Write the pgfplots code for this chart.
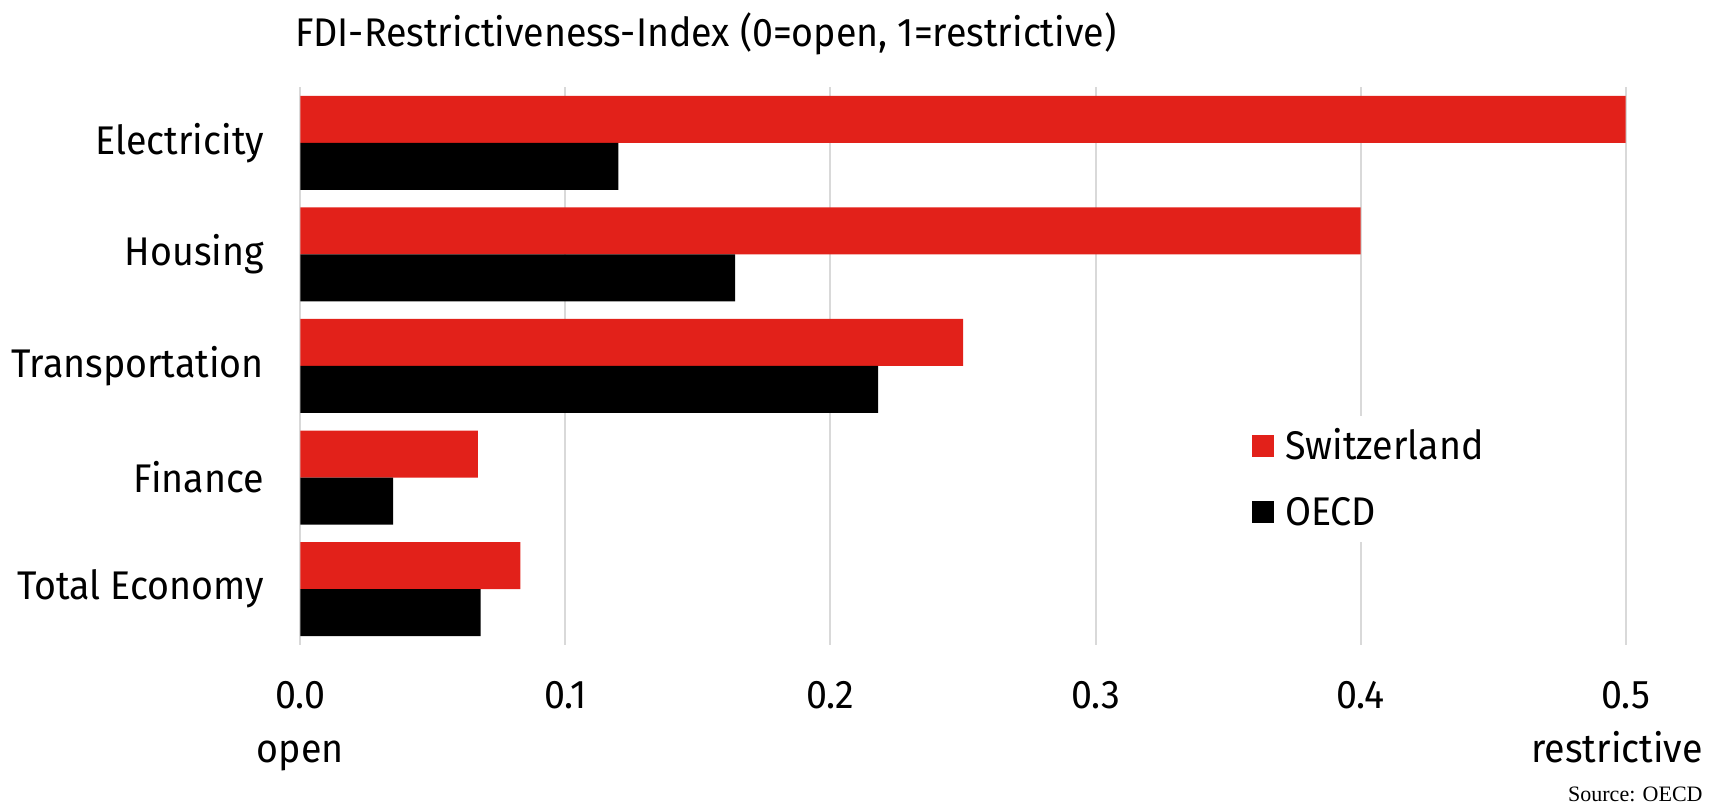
\documentclass[border=0pt]{standalone}
\usepackage{fontspec}
\setmainfont[FakeStretch=0.94]{Fira Sans}
\newfontfamily\srcfont{Liberation Serif}
\usepackage{pgfplots}
\pgfplotsset{compat=1.18}
\definecolor{chred}{RGB}{226,33,26}
\definecolor{gridgray}{RGB}{217,217,217}
\newcommand{\bigf}{\fontsize{20}{24}\selectfont}
\begin{document}
\begin{tikzpicture}
\begin{axis}[
  name=a,
  scale only axis,
  width=662.6pt, height=279pt,
  xbar, bar width=23.5pt,
  xmin=0, xmax=0.5,
  ymin=-0.5, ymax=4.5,
  clip=false,
  ytick={0,1,2,3,4},
  yticklabels={Total Economy, Finance, Transportation, Housing, Electricity},
  xtick={0,0.1,0.2,0.3,0.4,0.5},
  /pgf/number format/assume math mode=true,
  xticklabel={\pgfmathprintnumber[fixed, fixed zerofill, precision=1]{\tick}},
  xmajorgrids, major grid style={gridgray, line width=1pt},
  axis line style={draw=none},
  major tick length=0pt,
  tick label style={font=\bigf},
  xticklabel style={yshift=-14.5pt},
  yticklabel style={xshift=-14.7pt},
  legend style={at={(rel axis cs:0.807,0.2975)}, anchor=center, draw=none, fill=white,
    font=\bigf, inner sep=6pt, row sep=15pt,
    nodes={text height=14pt, text depth=0pt, inner sep=2pt},
    /tikz/every odd column/.append style={column sep=3.5pt}},
  legend cell align=left,
  legend image code/.code={\fill[#1] (0pt,-5.5pt) rectangle (11pt,5.5pt);},
]
\addplot[fill=chred, draw=none, bar shift=11.75pt] coordinates {(0.5,4) (0.4,3) (0.25,2) (0.067,1) (0.083,0)};
\addplot[fill=black, draw=none, bar shift=-11.75pt] coordinates {(0.12,4) (0.164,3) (0.218,2) (0.035,1) (0.068,0)};
\legend{Switzerland, OECD}
\node[anchor=base west, inner sep=0pt, font=\bigf, xshift=-2.8pt, yshift=20pt] at (rel axis cs:0,1) {FDI-Restrictiveness-Index (0=open, 1=restrictive)};
\node[anchor=base, inner sep=0pt, font=\bigf, yshift=-59pt] at (rel axis cs:0,0) {open};
\node[anchor=base east, inner sep=0pt, font=\bigf, xshift=38.7pt, yshift=-59pt] at (rel axis cs:1,0) {restrictive};
\node[anchor=base east, inner sep=0pt, font=\srcfont\fontsize{11}{13}\selectfont, xshift=38.7pt, yshift=-78.5pt] at (rel axis cs:1,0) {Source: OECD};
\end{axis}
\pgfresetboundingbox
\path[use as bounding box] (a.south west) ++(-150.2pt,-81pt) rectangle ++(856.5pt,403.5pt);
\end{tikzpicture}
\end{document}
